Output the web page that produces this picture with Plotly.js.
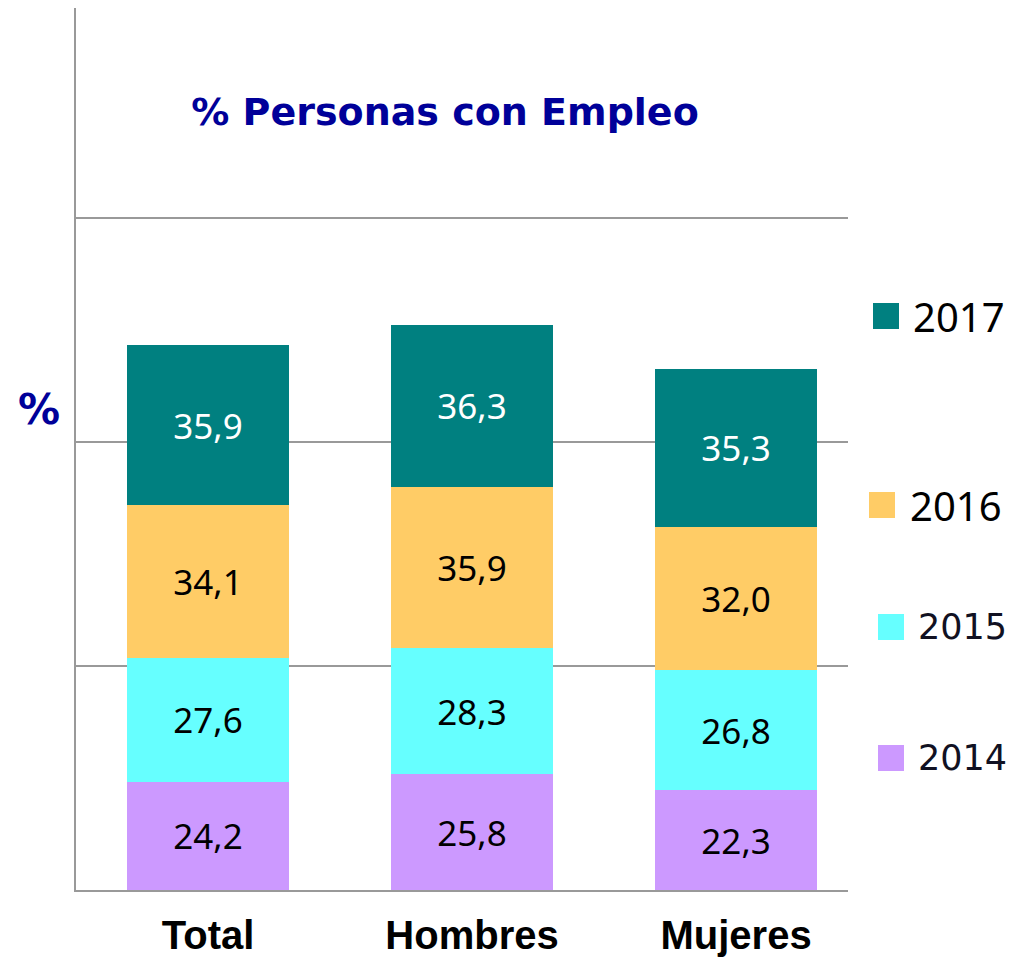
<!DOCTYPE html>
<html>
<head>
<meta charset="utf-8">
<script src="https://cdn.plot.ly/plotly-3.0.1.min.js"></script>
<style>html,body{margin:0;padding:0;background:#fff;}</style>
</head>
<body>
<div id="chart" style="width:1012px;height:960px;"></div>
<script>
// ---- data ----
const categories = ["Total", "Hombres", "Mujeres"];
const years = ["2014", "2015", "2016", "2017"];
const v2014 = [24.2, 25.8, 22.3];
const v2015 = [27.6, 28.3, 26.8];
const v2016 = [34.1, 35.9, 32.0];
const v2017 = [35.9, 36.3, 35.3];
const seriesValues = [v2014, v2015, v2016, v2017];

// ---- styles ----
const colors = ["#CC99FF", "#66FFFF", "#FFCC66", "#008080"];
const labelColors = ["#000000", "#000000", "#000000", "#FFFFFF"];

const W = 1012, H = 960;
const L = 76, R = 848, T = 8, B = 890;
const px = x => (x - L) / (R - L);
const py = y => (B - y) / (B - T);

const traces = years.map((yr, i) => ({
  type: "bar",
  name: yr,
  x: categories,
  y: seriesValues[i],
  marker: { color: colors[i], line: { width: 0 } },
  texttemplate: "%{y:.1f}",
  textposition: "inside",
  insidetextanchor: "middle",
  constraintext: "none",
  textfont: { family: "Noto Sans, sans-serif", size: 35, color: labelColors[i] },
  hoverinfo: "x+y+name",
  showlegend: false
}));

// legend (custom positions as in reference)
const legendPos = {
  "2017": { sx: 873, sy: 303, tx: 911, ty: 316, font: "Noto Sans, sans-serif", size: 40, color: "#000000" },
  "2016": { sx: 869, sy: 492, tx: 908, ty: 505, font: "Noto Sans, sans-serif", size: 40, color: "#000000" },
  "2015": { sx: 878, sy: 614, tx: 916, ty: 627, font: "DejaVu Sans, sans-serif", size: 35, color: "#111122" },
  "2014": { sx: 878, sy: 745, tx: 916, ty: 758, font: "DejaVu Sans, sans-serif", size: 35, color: "#111122" }
};
const shapes = [];
const annotations = [];
years.forEach((yr, i) => {
  const p = legendPos[yr];
  shapes.push({
    type: "rect", xref: "paper", yref: "paper",
    x0: px(p.sx), x1: px(p.sx + 26), y0: py(p.sy + 26), y1: py(p.sy),
    fillcolor: colors[i], line: { width: 0 }
  });
  annotations.push({
    xref: "paper", yref: "paper", x: px(p.tx), y: py(p.ty),
    xanchor: "left", yanchor: "middle", showarrow: false,
    text: yr, font: { family: p.font, size: p.size, color: p.color }
  });
});
annotations.push({
  xref: "paper", yref: "paper", x: px(39), y: py(409),
  xanchor: "center", yanchor: "middle", showarrow: false,
  text: "%", font: { family: "DejaVu Sans, sans-serif", size: 42, color: "#000099", weight: "bold" }
});

const layout = {
  width: W, height: H,
  margin: { l: L, r: W - R, t: T, b: H - B, pad: 0 },
  paper_bgcolor: "#ffffff", plot_bgcolor: "#ffffff",
  separators: ",.",
  barmode: "stack",
  bargap: 0.386,
  title: {
    text: "% Personas con Empleo",
    x: px(445), xref: "paper", xanchor: "center",
    y: 1 - 112 / H, yref: "container", yanchor: "middle",
    font: { family: "DejaVu Sans, sans-serif", size: 38, color: "#000099", weight: "bold" }
  },
  xaxis: {
    range: [-0.5, 2.424],
    showline: true, linecolor: "#999999", linewidth: 2,
    showgrid: false, ticks: "", ticklabelstandoff: 9,
    tickfont: { family: "Liberation Sans, Arial, sans-serif", size: 40, color: "#000000", weight: "bold" },
    fixedrange: true
  },
  yaxis: {
    range: [0, 197],
    dtick: 50, tick0: 0,
    showgrid: true, gridcolor: "#999999", gridwidth: 2,
    zeroline: false, showticklabels: false, ticks: "",
    showline: true, linecolor: "#999999", linewidth: 2,
    fixedrange: true
  },
  shapes: shapes,
  annotations: annotations,
  showlegend: false
};

Plotly.newPlot("chart", traces, layout, { displayModeBar: false, staticPlot: true });
</script>
</body>
</html>
